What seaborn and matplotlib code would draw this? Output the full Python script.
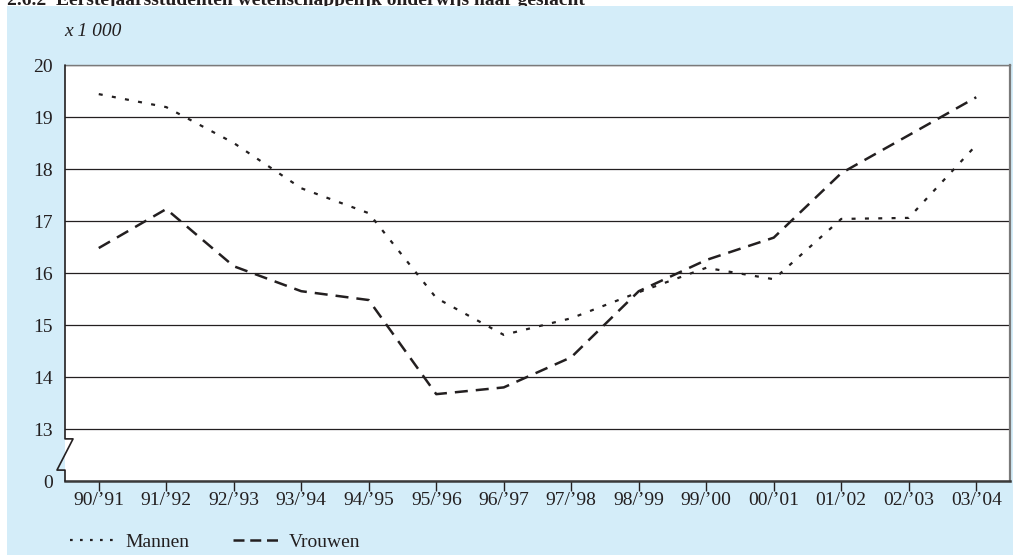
import numpy as np
import pandas as pd
import matplotlib
matplotlib.use("Agg")
import matplotlib.pyplot as plt
import matplotlib.transforms as mtransforms
from matplotlib.lines import Line2D
from matplotlib.patches import Rectangle
import seaborn as sns

# schooljaren en aantallen eerstejaars (x 1 000)
jaren = ["90/’91", "91/’92", "92/’93", "93/’94", "94/’95", "95/’96", "96/’97",
         "97/’98", "98/’99", "99/’00", "00/’01", "01/’02", "02/’03", "03/’04"]
mannen = [19.44, 19.19, 18.50, 17.63, 17.15, 15.52, 14.81,
          15.13, 15.63, 16.10, 15.88, 17.04, 17.06, 18.46]
vrouwen = [16.48, 17.23, 16.13, 15.65, 15.48, 13.67, 13.80,
           14.38, 15.65, 16.25, 16.68, 17.92, 18.65, 19.38]
y_ticks = [12, 13, 14, 15, 16, 17, 18, 19, 20]
y_labels = ["0", "13", "14", "15", "16", "17", "18", "19", "20"]

BLUE = "#D4EDF9"
INK = "#231f20"
FS = 14

sns.set_theme(style="white")
plt.rcParams["font.family"] = ["Liberation Serif", "DejaVu Serif"]
plt.rcParams["font.size"] = FS

df = pd.DataFrame({"pos": np.arange(len(jaren)), "Mannen": mannen, "Vrouwen": vrouwen})

fig = plt.figure(figsize=(10.13, 5.55), dpi=100)
fig.patch.set_facecolor("white")
fig.patches.append(Rectangle((7 / 1013, 0), 1, 1 - 6 / 555, transform=fig.transFigure,
                             facecolor=BLUE, edgecolor="none", zorder=-1))
# titel valt grotendeels buiten beeld, zoals in het origineel
fig.text(7 / 1013, 1 - 5 / 555,
         "2.6.2  Eerstejaarsstudenten wetenschappelijk onderwijs naar geslacht",
         fontsize=14, fontweight="bold", color=INK, va="baseline", ha="left", zorder=-2)

ax = fig.add_axes([65 / 1013, 74 / 555, (1010 - 65) / 1013, (481 - 65) / 555])
ax.set_facecolor("white")

sns.lineplot(data=df, x="pos", y="Mannen", ax=ax, color=INK, lw=1.6, zorder=3)
sns.lineplot(data=df, x="pos", y="Vrouwen", ax=ax, color=INK, lw=1.8, zorder=3)
ax.lines[0].set_dashes((1.8, 4.2))
ax.lines[1].set_dashes((5.2, 3.2))

ax.set_xlim(-0.5, 13.5)
ax.set_ylim(12, 20)
ax.set_xticks(df["pos"])
ax.set_xticklabels(jaren)
ax.set_yticks(y_ticks)
ax.set_yticklabels(y_labels)
ax.set_xlabel("")
ax.set_ylabel("")
ax.grid(axis="y", color=INK, lw=0.9)
ax.grid(axis="x", visible=False)
ax.tick_params(axis="x", direction="out", length=7, width=1, color=INK,
               pad=1, labelsize=FS, labelcolor=INK, bottom=True)
ax.tick_params(axis="y", length=0, pad=9, labelsize=FS, labelcolor=INK)

ax.spines["top"].set_color("#7a7a7a")
ax.spines["top"].set_linewidth(1.0)
ax.spines["right"].set_color("#7a7a7a")
ax.spines["right"].set_linewidth(1.6)
ax.spines["bottom"].set_color("#3a3a3a")
ax.spines["bottom"].set_linewidth(1.8)
ax.spines["left"].set_visible(False)

# onderbroken y-as
tr = mtransforms.blended_transform_factory(ax.transAxes, ax.transData)
ax.plot([0, 0, 0.0085, -0.0085, 0, 0], [20, 12.81, 12.81, 12.21, 12.21, 12],
        transform=tr, color=INK, lw=1.2, clip_on=False, zorder=4)

fig.text(64 / 1013, 1 - 32 / 555, "x 1 000", fontstyle="italic", fontsize=FS,
         color=INK, va="center", ha="left")

# legenda met eigen (fijnere) streepjespatronen, zoals in het origineel
handles = [Line2D([], [], color=INK, lw=1.6, dashes=(1.2, 3.3)),
           Line2D([], [], color=INK, lw=1.8, dashes=(4.4, 2.3))]
fig.legend(handles, ["Mannen", "Vrouwen"], loc="center left",
           bbox_to_anchor=(52 / 1013, 1 - 542 / 555),
           ncol=2, frameon=False, handlelength=2.4, handletextpad=0.5,
           columnspacing=2.2, fontsize=FS, labelcolor=INK)

fig.savefig("out.png", dpi=100, facecolor=fig.get_facecolor())
